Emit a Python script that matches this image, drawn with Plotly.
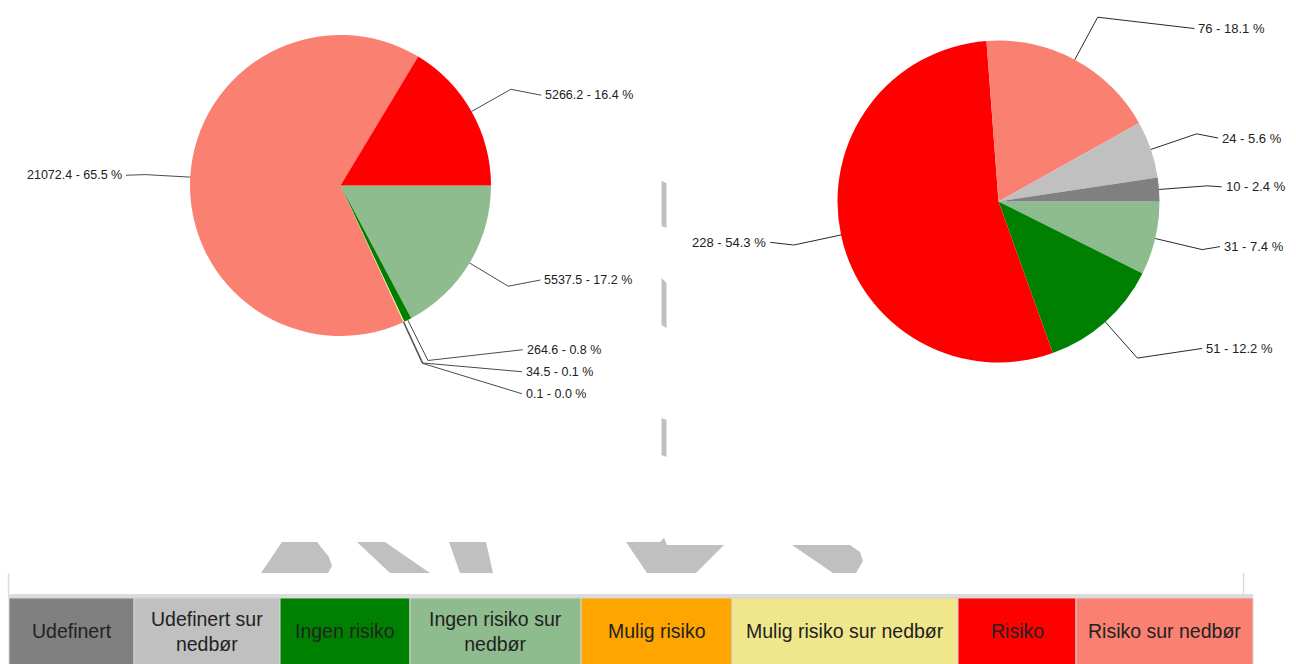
import math
import plotly.graph_objects as go

# ---- data -------------------------------------------------------------
# Slices are listed clockwise starting at 3 o'clock.
left_classes = ["Ingen risiko sur nedbør", "Ingen risiko", "Mulig risiko sur nedbør",
                "Mulig risiko", "Risiko sur nedbør", "Risiko"]
left_values = [5537.5, 264.6, 34.5, 0.1, 21072.4, 5266.2]
left_pct = [17.2, 0.8, 0.1, 0.0, 65.5, 16.4]

right_classes = ["Ingen risiko sur nedbør", "Ingen risiko", "Risiko",
                 "Risiko sur nedbør", "Udefinert sur nedbør", "Udefinert"]
right_values = [31, 51, 228, 76, 24, 10]
right_pct = [7.4, 12.2, 54.3, 18.1, 5.6, 2.4]

legend_classes = ["Udefinert", "Udefinert sur nedbør", "Ingen risiko",
                  "Ingen risiko sur nedbør", "Mulig risiko",
                  "Mulig risiko sur nedbør", "Risiko", "Risiko sur nedbør"]
legend_labels = ["Udefinert", "Udefinert sur<br>nedbør", "Ingen risiko",
                 "Ingen risiko sur<br>nedbør", "Mulig risiko",
                 "Mulig risiko sur nedbør", "Risiko", "Risiko sur nedbør"]

# ---- styling ----------------------------------------------------------
class_colors = {
    "Udefinert": "#808080",
    "Udefinert sur nedbør": "#c0c0c0",
    "Ingen risiko": "#008000",
    "Ingen risiko sur nedbør": "#8fbc8f",
    "Mulig risiko": "#ffa500",
    "Mulig risiko sur nedbør": "#f0e68c",
    "Risiko": "#ff0000",
    "Risiko sur nedbør": "#fa8072",
}

W, H = 1296, 664
FONT = "Liberation Sans, Arial, sans-serif"
TEXT_COLOR = "#222222"

# legend strip cell borders (pixels)
legend_edges = [9, 134, 280, 410, 581, 732, 958, 1076, 1253]
legend_top, legend_bottom = 598, 665


def px(x):
    return x / W


def py(y):
    return 1 - y / H


fig = go.Figure()
shapes = []
annotations = []


def fmt_value(v):
    return f"{v:g}"


def add_pie(classes, values, pct, cx, cy, r, font_size, line_color, spacing):
    fig.add_trace(go.Pie(
        labels=classes,
        values=values,
        sort=False,
        direction="clockwise",
        rotation=90,
        textinfo="none",
        hoverinfo="label+value+percent",
        marker=dict(colors=[class_colors[c] for c in classes],
                    line=dict(width=0)),
        domain=dict(x=[px(cx - r), px(cx + r)], y=[py(cy + r), py(cy - r)]),
        showlegend=False,
    ))

    total = float(sum(values))
    cum = 0.0
    items = []
    for v, p in zip(values, pct):
        ang = -(cum + v / 2.0) / total * 2 * math.pi
        cum += v
        c, s = math.cos(ang), math.sin(ang)
        side = 1 if c >= 0 else -1
        reach = 1.4 - 0.22 * s * s + (0.04 if side < 0 else 0.0)
        items.append(dict(
            edge=(cx + r * c, cy - r * s),
            elbow=(cx + 1.3 * r * c, cy - 1.3 * r * s),
            lx=cx + side * r * reach,
            ly=cy - 1.22 * r * s,
            side=side,
            text=f"{fmt_value(v)} - {p:.1f} %",
        ))

    # keep labels on each side from overlapping
    for side in (1, -1):
        group = sorted([it for it in items if it["side"] == side],
                       key=lambda it: it["ly"])
        for i in range(1, len(group)):
            if group[i]["ly"] < group[i - 1]["ly"] + spacing:
                group[i]["ly"] = group[i - 1]["ly"] + spacing

    for it in items:
        ex, ey = it["edge"]
        bx, by = it["elbow"]
        ax = it["lx"] - 2 * it["side"]
        ay = it["ly"]
        shapes.append(dict(
            type="path", xref="paper", yref="paper", layer="above",
            path=f"M{px(ex)},{py(ey)} L{px(bx)},{py(by)} L{px(ax)},{py(ay)}",
            line=dict(color=line_color, width=1),
        ))
        annotations.append(dict(
            x=px(it["lx"]), y=py(it["ly"]), xref="paper", yref="paper",
            xanchor="left" if it["side"] > 0 else "right", yanchor="middle",
            text=it["text"], showarrow=False,
            font=dict(family=FONT, size=font_size, color=TEXT_COLOR),
        ))


add_pie(left_classes, left_values, left_pct, 340.5, 185.5, 150.5, 12.5, "#4a4a4a", 22)
add_pie(right_classes, right_values, right_pct, 998.5, 201.5, 161, 13, "#2a2a2a", 23)

# ---- grey background fragments -------------------------------------------
GREY = "#c0c0c0"
fragments = [
    [(661.5, 181), (666.5, 183), (666.5, 228), (661.5, 226)],
    [(661.5, 278), (666.5, 283), (666.5, 328), (661.5, 325)],
    [(661.5, 418), (666.5, 420), (666.5, 457), (661.5, 455)],
    [(261, 573), (282, 542), (317, 542), (329, 557), (332, 566), (328, 573)],
    [(357, 542), (385, 542), (430, 573), (390, 573)],
    [(449, 542), (486, 542), (493, 573), (460, 573)],
    [(626, 542), (660, 542), (664, 538), (667, 545), (724, 545), (696, 573), (647, 573)],
    [(792, 545), (850, 545), (860, 552), (863, 561), (856, 573), (833, 573)],
]
for poly in fragments:
    path = "M" + " L".join(f"{px(x)},{py(y)}" for x, y in poly) + " Z"
    shapes.append(dict(type="path", xref="paper", yref="paper", layer="below",
                       path=path, fillcolor=GREY, line=dict(width=0)))

# ---- legend strip -----------------------------------------------------
BRACKET = "#dcdcdc"
shapes.append(dict(type="rect", xref="paper", yref="paper", layer="above",
                   x0=px(8), x1=px(1253), y0=py(598), y1=py(594),
                   fillcolor=BRACKET, line=dict(width=0)))
for xb in (8.5, 1243.5):
    shapes.append(dict(type="line", xref="paper", yref="paper", layer="above",
                       x0=px(xb), x1=px(xb), y0=py(573), y1=py(595),
                       line=dict(color=BRACKET, width=1.5)))

for i, (cls, lab) in enumerate(zip(legend_classes, legend_labels)):
    x0, x1 = legend_edges[i], legend_edges[i + 1]
    shapes.append(dict(type="rect", xref="paper", yref="paper", layer="above",
                       x0=px(x0), x1=px(x1), y0=py(legend_bottom), y1=py(legend_top),
                       fillcolor=class_colors[cls],
                       line=dict(color="#d4d4d4", width=1)))
    annotations.append(dict(
        x=px((x0 + x1) / 2), y=py(631), xref="paper", yref="paper",
        xanchor="center", yanchor="middle", text=lab, showarrow=False,
        align="center",
        font=dict(family=FONT, size=19.5, color=TEXT_COLOR),
    ))

fig.update_layout(
    width=W, height=H, autosize=False,
    margin=dict(l=0, r=0, t=0, b=0),
    paper_bgcolor="white", plot_bgcolor="white",
    shapes=shapes, annotations=annotations,
    showlegend=False,
)

fig.write_html("out.html")
